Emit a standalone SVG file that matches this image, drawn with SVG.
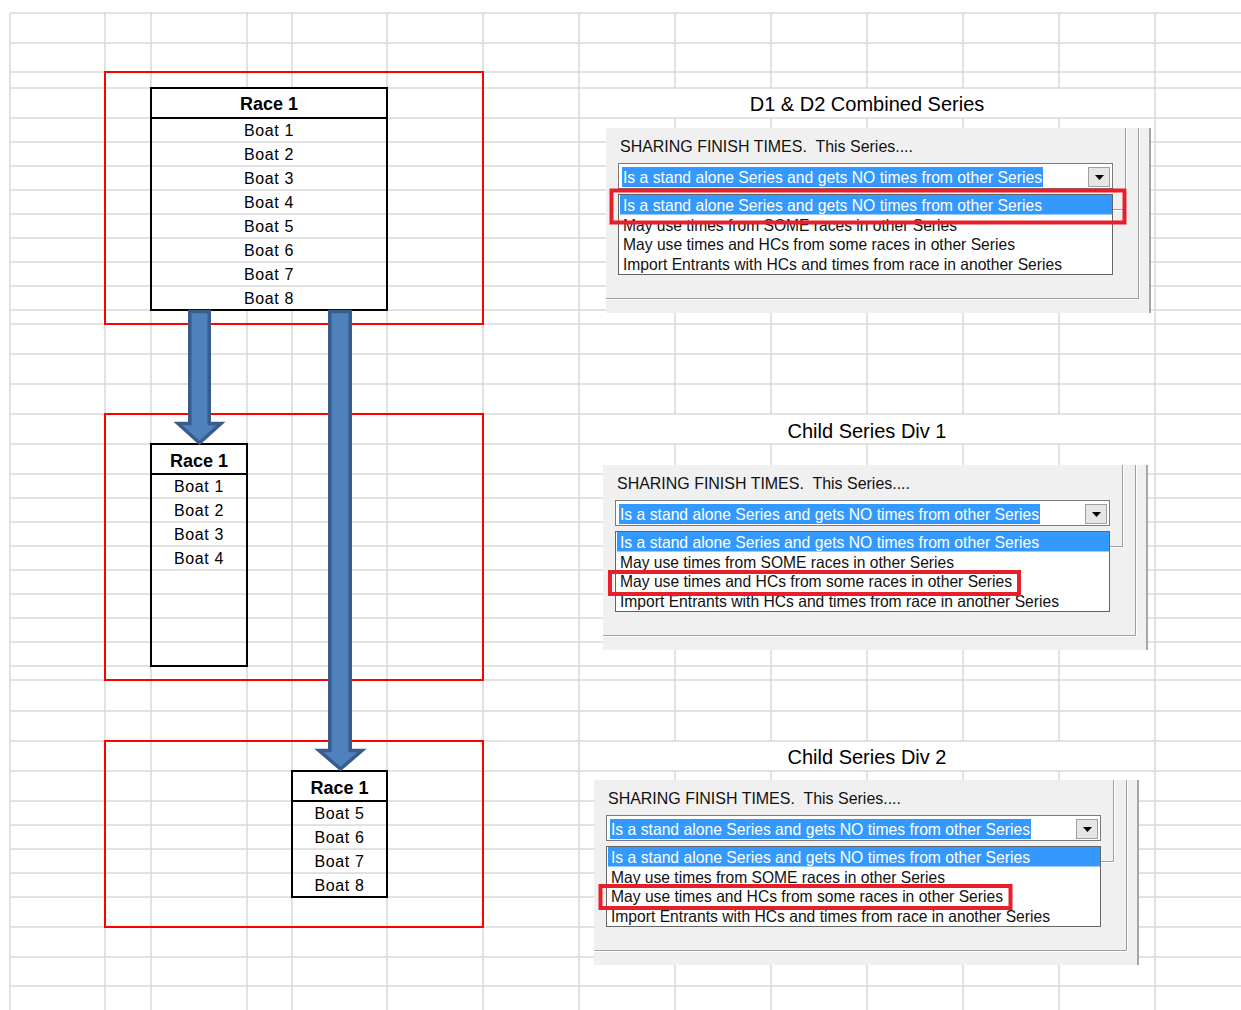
<svg xmlns="http://www.w3.org/2000/svg" width="1241" height="1010" viewBox="0 0 1241 1010">
<style>
  .grid { fill:none; stroke:#d9d9d9; stroke-width:1.5; }
  .zone { fill:none; stroke:#ff0000; stroke-width:2; }
  .tbl { fill:none; stroke:#000; stroke-width:2; }
  .hdr { font-family:"Liberation Sans",Arial,sans-serif; font-size:18px; font-weight:bold; text-anchor:middle; fill:#000; }
  .boat { font-family:"Liberation Sans",Arial,sans-serif; font-size:16px; letter-spacing:0.6px; text-anchor:middle; fill:#000; }
  .title { font-family:"Liberation Sans",Arial,sans-serif; font-size:20px; text-anchor:middle; fill:#000; }
  .arrow { fill:#4f81bd; stroke:#385d8a; stroke-width:3.5; stroke-linejoin:miter; }
  .pbg { fill:#f0f0f0; }
  .etch { fill:none; stroke:#a0a0a0; stroke-width:1; }
  .etchw { fill:none; stroke:#ffffff; stroke-width:1; }
  .edge { fill:none; stroke:#8c8c8c; stroke-width:1.5; }
  .ui { font-family:"Liberation Sans",Arial,sans-serif; font-size:16.5px; fill:#111; }
  .uisel { font-family:"Liberation Sans",Arial,sans-serif; font-size:16.5px; fill:#fff; }
  .combo { fill:#fff; stroke:#7a7a7a; stroke-width:1; }
  .list { fill:#fff; stroke:#646464; stroke-width:1; }
  .hl { fill:#3399ff; }
  .btn { fill:#e6e6e6; stroke:#a0a0a0; stroke-width:1; }
  .pick { fill:none; stroke:#e81f2a; stroke-width:4; }
</style>

<!-- spreadsheet grid -->
<g id="grid" class="grid">
  <path d="M10 13H1241M10 43H1241M10 72H1241M10 88H1241M10 118H1241M10 142H1241M10 166H1241M10 190H1241M10 214H1241M10 238H1241M10 262H1241M10 286H1241M10 310H1241M10 324H1241M10 354H1241M10 384H1241M10 414H1241M10 444H1241M10 474H1241M10 498H1241M10 522H1241M10 546H1241M10 570H1241M10 594H1241M10 618H1241M10 642H1241M10 666H1241M10 680H1241M10 711H1241M10 741H1241M10 771H1241M10 801H1241M10 825H1241M10 849H1241M10 873H1241M10 897H1241M10 927H1241M10 957H1241M10 986H1241"/>
  <path d="M10 13V1010M105 13V1010M151 13V1010M247 13V88M247 310V1010M292 13V88M292 310V1010M387 13V1010M483 13V1010M579 13V1010M1155 13V1010"/>
  <path d="M675 13V88M675 118V414M675 444V741M675 771V1010M771 13V88M771 118V414M771 444V741M771 771V1010M867 13V88M867 118V414M867 444V741M867 771V1010M963 13V88M963 118V414M963 444V741M963 771V1010M1059 13V88M1059 118V414M1059 444V741M1059 771V1010"/>
</g>

<!-- division zones -->
<g id="zones">
  <rect id="zone-combined" class="zone" x="105" y="72" width="378" height="252"/>
  <rect id="zone-div1" class="zone" x="105" y="414" width="378" height="266"/>
  <rect id="zone-div2" class="zone" x="105" y="741" width="378" height="186"/>
</g>

<!-- combined race entry list -->
<g id="race-combined">
  <rect class="tbl" x="151" y="88" width="236" height="222"/>
  <line class="tbl" x1="151" y1="118" x2="387" y2="118"/>
  <text class="hdr" x="269" y="110">Race 1</text>
  <text class="boat" x="269" y="136">Boat 1</text>
  <text class="boat" x="269" y="160">Boat 2</text>
  <text class="boat" x="269" y="184">Boat 3</text>
  <text class="boat" x="269" y="208">Boat 4</text>
  <text class="boat" x="269" y="232">Boat 5</text>
  <text class="boat" x="269" y="256">Boat 6</text>
  <text class="boat" x="269" y="280">Boat 7</text>
  <text class="boat" x="269" y="304">Boat 8</text>
</g>

<!-- division 1 race -->
<g id="race-div1">
  <rect class="tbl" x="151" y="444" width="96" height="222"/>
  <line class="tbl" x1="151" y1="474" x2="247" y2="474"/>
  <text class="hdr" x="199" y="466.5">Race 1</text>
  <text class="boat" x="199" y="492">Boat 1</text>
  <text class="boat" x="199" y="516">Boat 2</text>
  <text class="boat" x="199" y="540">Boat 3</text>
  <text class="boat" x="199" y="564">Boat 4</text>
</g>

<!-- division 2 race -->
<g id="race-div2">
  <rect class="tbl" x="292" y="771" width="95" height="126"/>
  <line class="tbl" x1="292" y1="801" x2="387" y2="801"/>
  <text class="hdr" x="339.5" y="793.5">Race 1</text>
  <text class="boat" x="339.5" y="819">Boat 5</text>
  <text class="boat" x="339.5" y="843">Boat 6</text>
  <text class="boat" x="339.5" y="867">Boat 7</text>
  <text class="boat" x="339.5" y="891">Boat 8</text>
</g>

<!-- block arrows: boats passed down to each division -->
<g id="connectors">
  <path id="to-div1" class="arrow" d="M189.75 311.5H209.25V423.5H221L199.5 443L178 423.5H189.75Z"/>
  <path id="to-div2" class="arrow" d="M329.75 311.5H350.25V750.5H362L340.5 769L319 750.5H329.75Z"/>
</g>

<!-- series titles -->
<g id="titles">
  <text class="title" x="867" y="111">D1 &amp; D2 Combined Series</text>
  <text class="title" x="867" y="438">Child Series Div 1</text>
  <text class="title" x="867" y="764">Child Series Div 2</text>
</g>

<!-- sharing options panel: combined series -->
<g id="panel-combined">
  <rect class="pbg" x="606" y="128" width="545" height="185"/>
  <path class="etch" d="M1125.5 128V209.5H1113"/>
  <path class="etchw" d="M1126.5 128V210.5H1113"/>
  <path class="etch" d="M1138.5 128V298.5H606"/>
  <path class="etchw" d="M1139.5 128V299.5H606"/>
  <line class="edge" x1="1150" y1="128" x2="1150" y2="313"/>
  <text class="ui" x="620" y="151.5" xml:space="preserve" textLength="293" lengthAdjust="spacingAndGlyphs">SHARING FINISH TIMES.  This Series....</text>
  <rect class="combo" x="618.5" y="163.5" width="494" height="25"/>
  <rect class="hl" x="622" y="167" width="421" height="20"/>
  <text class="uisel" x="623" y="183" textLength="419" lengthAdjust="spacingAndGlyphs">Is a stand alone Series and gets NO times from other Series</text>
  <rect class="btn" x="1088.5" y="167.5" width="21" height="19"/>
  <path d="M1095 175H1104L1099.5 180Z" fill="#000"/>
  <rect class="list" x="618.5" y="194.5" width="494" height="80"/>
  <rect class="hl" x="620" y="195" width="492" height="19.5"/>
  <text class="uisel" x="623" y="211" textLength="419" lengthAdjust="spacingAndGlyphs">Is a stand alone Series and gets NO times from other Series</text>
  <text class="ui" x="623" y="230.5" textLength="334" lengthAdjust="spacingAndGlyphs">May use times from SOME races in other Series</text>
  <text class="ui" x="623" y="250" textLength="392" lengthAdjust="spacingAndGlyphs">May use times and HCs from some races in other Series</text>
  <text class="ui" x="623" y="269.5" textLength="439" lengthAdjust="spacingAndGlyphs">Import Entrants with HCs and times from race in another Series</text>
  <rect class="pick" x="611.5" y="190.5" width="513" height="32"/>
</g>

<!-- sharing options panel: division 1 -->
<g id="panel-div1" transform="translate(-3 337)">
  <rect class="pbg" x="606" y="128" width="545" height="185"/>
  <path class="etch" d="M1125.5 128V209.5H1113"/>
  <path class="etchw" d="M1126.5 128V210.5H1113"/>
  <path class="etch" d="M1138.5 128V298.5H606"/>
  <path class="etchw" d="M1139.5 128V299.5H606"/>
  <line class="edge" x1="1150" y1="128" x2="1150" y2="313"/>
  <text class="ui" x="620" y="151.5" xml:space="preserve" textLength="293" lengthAdjust="spacingAndGlyphs">SHARING FINISH TIMES.  This Series....</text>
  <rect class="combo" x="618.5" y="163.5" width="494" height="25"/>
  <rect class="hl" x="622" y="167" width="421" height="20"/>
  <text class="uisel" x="623" y="183" textLength="419" lengthAdjust="spacingAndGlyphs">Is a stand alone Series and gets NO times from other Series</text>
  <rect class="btn" x="1088.5" y="167.5" width="21" height="19"/>
  <path d="M1095 175H1104L1099.5 180Z" fill="#000"/>
  <rect class="list" x="618.5" y="194.5" width="494" height="80"/>
  <rect class="hl" x="620" y="195" width="492" height="19.5"/>
  <text class="uisel" x="623" y="211" textLength="419" lengthAdjust="spacingAndGlyphs">Is a stand alone Series and gets NO times from other Series</text>
  <text class="ui" x="623" y="230.5" textLength="334" lengthAdjust="spacingAndGlyphs">May use times from SOME races in other Series</text>
  <text class="ui" x="623" y="250" textLength="392" lengthAdjust="spacingAndGlyphs">May use times and HCs from some races in other Series</text>
  <text class="ui" x="623" y="269.5" textLength="439" lengthAdjust="spacingAndGlyphs">Import Entrants with HCs and times from race in another Series</text>
  <rect class="pick" x="613" y="235" width="409" height="22"/>
</g>

<!-- sharing options panel: division 2 -->
<g id="panel-div2" transform="translate(-12 652)">
  <rect class="pbg" x="606" y="128" width="545" height="185"/>
  <path class="etch" d="M1125.5 128V209.5H1113"/>
  <path class="etchw" d="M1126.5 128V210.5H1113"/>
  <path class="etch" d="M1138.5 128V298.5H606"/>
  <path class="etchw" d="M1139.5 128V299.5H606"/>
  <line class="edge" x1="1150" y1="128" x2="1150" y2="313"/>
  <text class="ui" x="620" y="151.5" xml:space="preserve" textLength="293" lengthAdjust="spacingAndGlyphs">SHARING FINISH TIMES.  This Series....</text>
  <rect class="combo" x="618.5" y="163.5" width="494" height="25"/>
  <rect class="hl" x="622" y="167" width="421" height="20"/>
  <text class="uisel" x="623" y="183" textLength="419" lengthAdjust="spacingAndGlyphs">Is a stand alone Series and gets NO times from other Series</text>
  <rect class="btn" x="1088.5" y="167.5" width="21" height="19"/>
  <path d="M1095 175H1104L1099.5 180Z" fill="#000"/>
  <rect class="list" x="618.5" y="194.5" width="494" height="80"/>
  <rect class="hl" x="620" y="195" width="492" height="19.5"/>
  <text class="uisel" x="623" y="211" textLength="419" lengthAdjust="spacingAndGlyphs">Is a stand alone Series and gets NO times from other Series</text>
  <text class="ui" x="623" y="230.5" textLength="334" lengthAdjust="spacingAndGlyphs">May use times from SOME races in other Series</text>
  <text class="ui" x="623" y="250" textLength="392" lengthAdjust="spacingAndGlyphs">May use times and HCs from some races in other Series</text>
  <text class="ui" x="623" y="269.5" textLength="439" lengthAdjust="spacingAndGlyphs">Import Entrants with HCs and times from race in another Series</text>
  <rect class="pick" x="612.5" y="234" width="410" height="22"/>
</g>
</svg>
